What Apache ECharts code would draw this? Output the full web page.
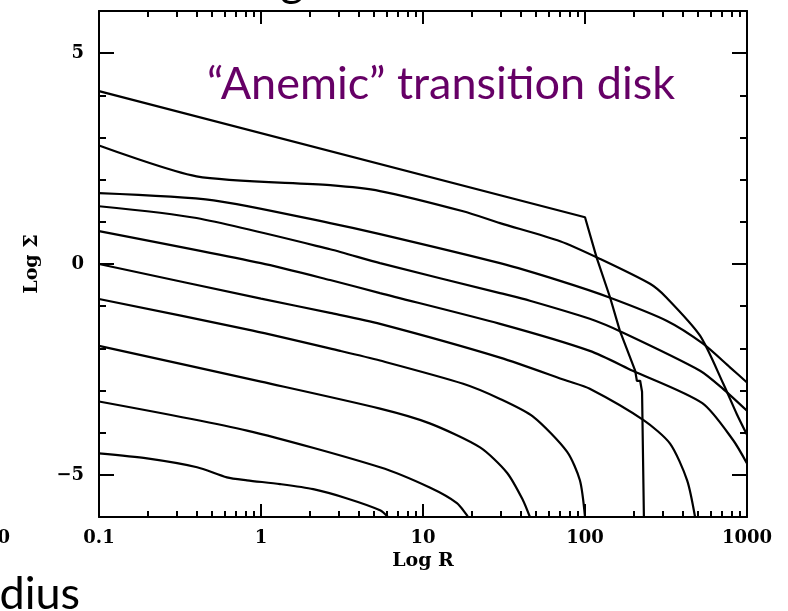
<!DOCTYPE html>
<html>
<head>
<meta charset="utf-8">
<script src="https://cdn.jsdelivr.net/npm/echarts@6/dist/echarts.min.js"></script>
<style>
  html, body { margin: 0; padding: 0; background: #fff; }
  #chart { width: 788px; height: 611px; }
</style>
</head>
<body>
<div id="chart"></div>
<script>
// Surface density profiles: [radius R, log Sigma]
const profile1 = [[0.1, 4.10], [100, 1.11], [118, 0.15], [143, -0.80], [164, -1.58], [204, -2.53],
  [209, -2.77], [219, -2.77], [225, -3.03], [231, -3.03], [231, -6.0]];
const profile2 = [[0.1, 2.81], [0.40, 2.08], [2.67, 1.87], [5.43, 1.73], [17.7, 1.25], [29.9, 0.97],
  [70.2, 0.54], [124, 0.12], [252, -0.47], [319, -0.80], [513, -1.70], [714, -2.84], [863, -3.55], [1000, -4.05]];
const profile3 = [[0.1, 1.68], [0.51, 1.51], [2.67, 0.97], [5.43, 0.71], [29.9, 0.02], [70.2, -0.40],
  [143, -0.80], [321, -1.35], [535, -1.89], [785, -2.45], [1000, -2.81]];
const profile4 = [[0.1, 1.37], [0.40, 1.09], [2.67, 0.35], [5.43, 0.02], [29.9, -0.69], [45.7, -0.87],
  [107, -1.30], [172, -1.63], [513, -2.53], [711, -2.96], [1000, -3.48]];
const profile5 = [[0.1, 0.78], [1, 0.02], [2.67, -0.38], [5.43, -0.69], [29.9, -1.42], [107, -2.06],
  [197, -2.53], [530, -3.30], [822, -4.18], [1000, -4.73]];
const profile6 = [[0.1, 0.0], [1, -0.82], [2.67, -1.16], [5.43, -1.42], [29.9, -2.22], [77.4, -2.77],
  [107, -2.96], [231, -3.71], [335, -4.26], [427, -5.13], [478, -6.0]];
const profile7 = [[0.1, -0.83], [0.89, -1.58], [3.08, -2.06], [5.43, -2.29], [17.7, -2.84], [29.9, -3.20],
  [47.8, -3.62], [77.4, -4.45], [93, -5.13], [100, -6.0]];
const profile8 = [[0.1, -1.94], [1, -2.79], [5.43, -3.43], [11.0, -3.78], [22.5, -4.35], [33.0, -4.95],
  [41.4, -5.60], [45.7, -6.0]];
const profile9 = [[0.1, -3.26], [0.82, -3.95], [5.43, -4.82], [11.0, -5.30], [16.2, -5.67], [19.0, -6.0]];
const profile10 = [[0.1, -4.49], [0.198, -4.61], [0.403, -4.82], [0.616, -5.06], [0.82, -5.13], [1.31, -5.22],
  [2.1, -5.34], [3.4, -5.56], [5.43, -5.84], [6.08, -6.0]];

// Axis ticks and labels
const xMajorTicks = [0.1, 1, 10, 100, 1000];
const xMinorSteps = [2, 3, 4, 5, 6, 7, 8, 9];
const yMajorTicks = [-5, 0, 5];
const yMinorTicks = [-6, -5, -4, -3, -2, -1, 0, 1, 2, 3, 4, 5, 6];

const profiles = [profile1, profile2, profile3, profile4, profile5,
  profile6, profile7, profile8, profile9, profile10];

// minor ticks of the log axis, expressed as decades
const xMinorLog = [];
xMajorTicks.slice(0, -1).forEach(d => xMinorSteps.forEach(m => xMinorLog.push(Math.log10(d * m))));

const tickFont = { fontFamily: 'DejaVu Serif', fontWeight: 'bold', fontSize: 18, color: '#000' };
const nameFont = { fontFamily: 'DejaVu Serif', fontWeight: 'bold', fontSize: 19, color: '#000' };
const black = { color: '#000', width: 2 };

function majorX(position, showLabels) {
  return {
    type: 'log', logBase: 10, min: 0.1, max: 1000, position,
    axisLine: { show: true, onZero: false, lineStyle: black },
    axisTick: { show: true, inside: true, length: 13, lineStyle: black },
    axisLabel: {
      show: showLabels, margin: 12, ...tickFont,
      formatter: v => String(+Number(v).toPrecision(6))
    },
    splitLine: { show: false }, minorTick: { show: false },
    name: showLabels ? 'Log R' : '', nameLocation: 'middle', nameGap: 34,
    nameTextStyle: nameFont
  };
}
function minorX(position) {
  return {
    type: 'value', min: -1, max: 3, position,
    axisLine: { show: false, onZero: false },
    axisTick: { show: true, inside: true, length: 6, lineStyle: black, customValues: xMinorLog },
    axisLabel: { show: false }, splitLine: { show: false }
  };
}
function majorY(position, showLabels) {
  return {
    type: 'value', min: -6, max: 6, position,
    axisLine: { show: true, onZero: false, lineStyle: black },
    axisTick: { show: true, inside: true, length: 15, lineStyle: black, customValues: yMajorTicks },
    axisLabel: {
      show: showLabels, margin: 15, ...tickFont, customValues: yMajorTicks,
      formatter: v => (v < 0 ? '\u2212' + Math.abs(v) : String(v))
    },
    splitLine: { show: false },
    name: showLabels ? 'Log \u03A3' : '', nameLocation: 'middle', nameGap: 57,
    nameTextStyle: nameFont
  };
}
function minorY(position) {
  return {
    type: 'value', min: -6, max: 6, position,
    axisLine: { show: false, onZero: false },
    axisTick: { show: true, inside: true, length: 7, lineStyle: black, customValues: yMinorTicks },
    axisLabel: { show: false }, splitLine: { show: false }
  };
}

const chart = echarts.init(document.getElementById('chart'), null, { renderer: 'canvas' });
chart.setOption({
  animation: false,
  backgroundColor: '#fff',
  grid: { left: 99, top: 11, width: 648, height: 506, containLabel: false },
  xAxis: [majorX('bottom', true), minorX('bottom'), majorX('top', false), minorX('top')],
  yAxis: [majorY('left', true), minorY('left'), majorY('right', false), minorY('right')],
  series: profiles.map((p, i) => ({
    type: 'line', xAxisIndex: 0, yAxisIndex: 0, data: p,
    showSymbol: false, symbol: 'none', clip: true, silent: true,
    // the first profile has a sharp truncation edge; the others are smooth
    smooth: i === 0 ? false : 0.25,
    lineStyle: { color: '#000', width: 2.2 }
  })),
  graphic: [
    { type: 'text', x: 441, y: 84, silent: true,
      style: { text: '\u201CAnemic\u201D transition disk', fontFamily: 'Lato', fontSize: 45,
        fill: '#660066', align: 'center', verticalAlign: 'middle' } },
    { type: 'text', x: 292, y: -19, silent: true,
      style: { text: 'g', fontFamily: 'Lato', fontSize: 45, fill: '#000', align: 'center', verticalAlign: 'middle' } },
    { type: 'text', x: 80, y: 594, silent: true,
      style: { text: 'dius', fontFamily: 'Lato', fontSize: 45, fill: '#000', align: 'right', verticalAlign: 'middle' } },
    { type: 'text', x: 10, y: 538, silent: true,
      style: { text: '0', fontFamily: 'DejaVu Serif', fontWeight: 'bold', fontSize: 18, fill: '#000',
        align: 'right', verticalAlign: 'middle' } }
  ]
});
</script>
</body>
</html>
